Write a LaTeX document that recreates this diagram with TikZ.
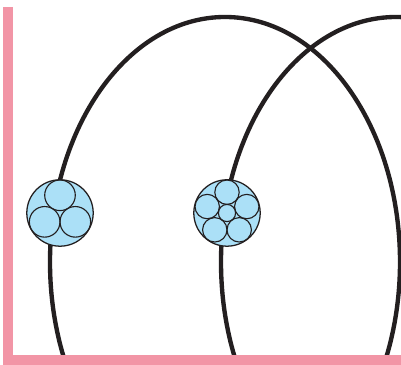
\documentclass[tikz,border=0pt]{standalone}
\usepackage{tikz}
\definecolor{axispink}{HTML}{F295A6}
\definecolor{cellblue}{HTML}{ABE0F7}
\definecolor{ink}{HTML}{231F20}

\begin{document}
\begin{tikzpicture}[
  x=0.025cm, y=0.025cm,
  orbit/.style={draw=ink, line width=3.1pt},
  axis/.style={draw=axispink, line width=7pt, line join=miter},
  bundle/.style={circle, draw=ink, fill=cellblue, line width=0.9pt, inner sep=0pt, outer sep=0pt, minimum size=1.66cm},
  fiber/.style={circle, draw=ink, line width=0.8pt, inner sep=0pt, outer sep=0pt, minimum size=#1}
]
  \useasboundingbox (0,0) rectangle (401,365);
  \begin{scope}
    \clip (0,0) rectangle (401,365);
    \draw[orbit] (225,103) ellipse [x radius=175, y radius=245];
    \draw[orbit] (396,103) ellipse [x radius=175, y radius=245];
  \end{scope}
  \node[bundle] (trio) at (60,152) {};
  \node[bundle] (ring) at (227,152) {};
  \foreach \a [count=\i] in {90,210,330}
    \node[fiber=0.765cm] (trio\i) at ([shift={(\a:17.7)}]trio.center) {};
  \foreach \a [count=\i] in {90,162,234,306,18}
    \node[fiber=0.61cm] (ring\i) at ([shift={(\a:20.8)}]ring.center) {};
  \node[fiber=0.43cm] (core) at (ring.center) {};
  \draw[axis] (8,358) -- (8,5) -- (401,5);
\end{tikzpicture}
\end{document}
